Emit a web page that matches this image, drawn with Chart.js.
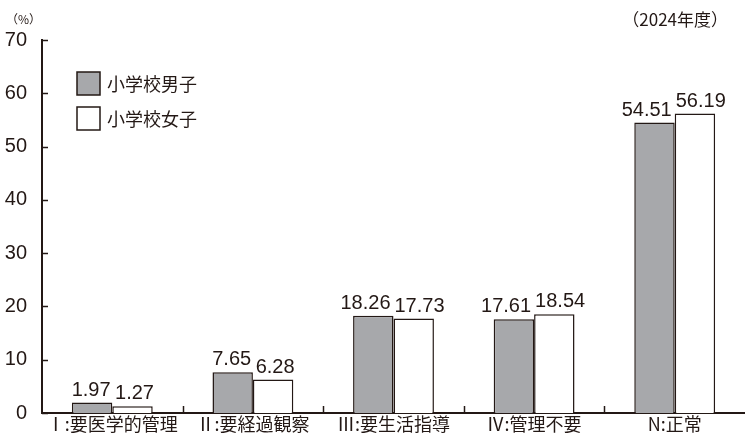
<!DOCTYPE html>
<html>
<head>
<meta charset="utf-8">
<script src="https://cdn.jsdelivr.net/npm/chart.js@4.4.1/dist/chart.umd.min.js"></script>
<style>
  html, body { margin: 0; padding: 0; background: #fff; overflow: hidden; }
  canvas { display: block; }
</style>
</head>
<body>
<canvas id="chart" width="745" height="434"></canvas>
<script>
const categories = ['Ⅰ:要医学的管理', 'Ⅱ:要経過観察', 'Ⅲ:要生活指導', 'Ⅳ:管理不要', 'N:正常']
const boys = [1.97, 7.65, 18.26, 17.61, 54.51]
const girls = [1.27, 6.28, 17.73, 18.54, 56.19]
const yTicks = [0, 10, 20, 30, 40, 50, 60, 70]

const ink = '#231815'
const numFont = '"Liberation Sans", "Noto Sans CJK JP", sans-serif'
const jpFont = '"Noto Sans CJK JP", sans-serif'

// small tick marks drawn inside the axes, plus value labels, legend and notes
const extras = {
  id: 'extras',
  afterDatasetsDraw(chart) {
    const ctx = chart.ctx
    const area = chart.chartArea
    const x = chart.scales.x
    const y = chart.scales.y
    ctx.save()
    ctx.strokeStyle = ink
    ctx.lineWidth = 1.5
    yTicks.forEach(v => {
      const py = Math.round(y.getPixelForValue(v)) + 0.5
      ctx.beginPath()
      ctx.moveTo(area.left, py)
      ctx.lineTo(area.left + 6, py)
      ctx.stroke()
    })
    for (let i = 1; i < categories.length; i++) {
      const px = Math.round((x.getPixelForValue(i - 1) + x.getPixelForValue(i)) / 2) + 0.5
      ctx.beginPath()
      ctx.moveTo(px, area.bottom)
      ctx.lineTo(px, area.bottom - 7)
      ctx.stroke()
    }

    // value labels: boys' pushed toward the right edge, girls' from the left edge
    ctx.fillStyle = ink
    ctx.font = '20px ' + numFont
    ctx.textBaseline = 'alphabetic'
    ctx.textAlign = 'left'
    chart.data.datasets.forEach((ds, di) => {
      chart.getDatasetMeta(di).data.forEach((bar, i) => {
        const txt = ds.data[i].toFixed(2)
        const w = ctx.measureText(txt).width
        const half = bar.width / 2
        let tx
        if (w <= bar.width) tx = bar.x - w / 2 + (di === 0 ? -1 : 2)
        else if (di === 0) tx = bar.x + half - 3 - w
        else tx = bar.x - half + 1
        ctx.fillText(txt, tx, bar.y - 7)
      })
    })

    // legend
    ctx.textBaseline = 'middle'
    ctx.font = '18px ' + jpFont
    chart.data.datasets.forEach((ds, di) => {
      const top = 72 + di * 35
      ctx.fillStyle = ds.backgroundColor
      ctx.fillRect(77, top, 23, 23)
      ctx.lineWidth = 1.5
      ctx.strokeStyle = ink
      ctx.strokeRect(77, top, 23, 23)
      ctx.fillStyle = ink
      ctx.fillText(ds.label, 107, top + 12)
    })

    // unit and year notes
    ctx.font = '12px ' + jpFont
    ctx.fillText('（%）', 6, 19)
    ctx.font = '17px ' + jpFont
    ctx.textAlign = 'right'
    ctx.fillText('（2024年度）', 728, 20)
    ctx.restore()
  }
}

new Chart(document.getElementById('chart'), {
  type: 'bar',
  data: {
    labels: categories,
    datasets: [
      {
        label: '小学校男子',
        data: boys,
        backgroundColor: '#a7a8ab',
        borderColor: ink,
        borderWidth: 1.5,
        borderSkipped: 'bottom',
        categoryPercentage: 0.575,
        barPercentage: 1
      },
      {
        label: '小学校女子',
        data: girls,
        backgroundColor: '#ffffff',
        borderColor: ink,
        borderWidth: 1.5,
        borderSkipped: 'bottom',
        categoryPercentage: 0.575,
        barPercentage: 1
      }
    ]
  },
  options: {
    responsive: false,
    animation: false,
    layout: { padding: { top: 40, right: 0, left: 0, bottom: 0 } },
    plugins: {
      legend: { display: false },
      tooltip: { enabled: false }
    },
    scales: {
      x: {
        afterFit(scale) { scale.height = 21 },
        grid: { display: false, drawTicks: false },
        border: { color: ink, width: 2 },
        ticks: { color: ink, font: { size: 18, family: jpFont, lineHeight: 1.1 }, padding: 1, maxRotation: 0, autoSkip: false }
      },
      y: {
        min: 0,
        max: 70,
        // fixed axis width; the tick padding should not push the plot up from the bottom
        afterFit(scale) {
          scale.width = 42
          scale.paddingTop = 0
          scale.paddingBottom = 0
        },
        afterBuildTicks(scale) { scale.ticks = yTicks.map(v => ({ value: v })) },
        grid: { display: false, drawTicks: false },
        border: { color: ink, width: 2 },
        ticks: { color: ink, font: { size: 20, family: numFont }, padding: 15 }
      }
    }
  },
  plugins: [extras]
})
</script>
</body>
</html>
